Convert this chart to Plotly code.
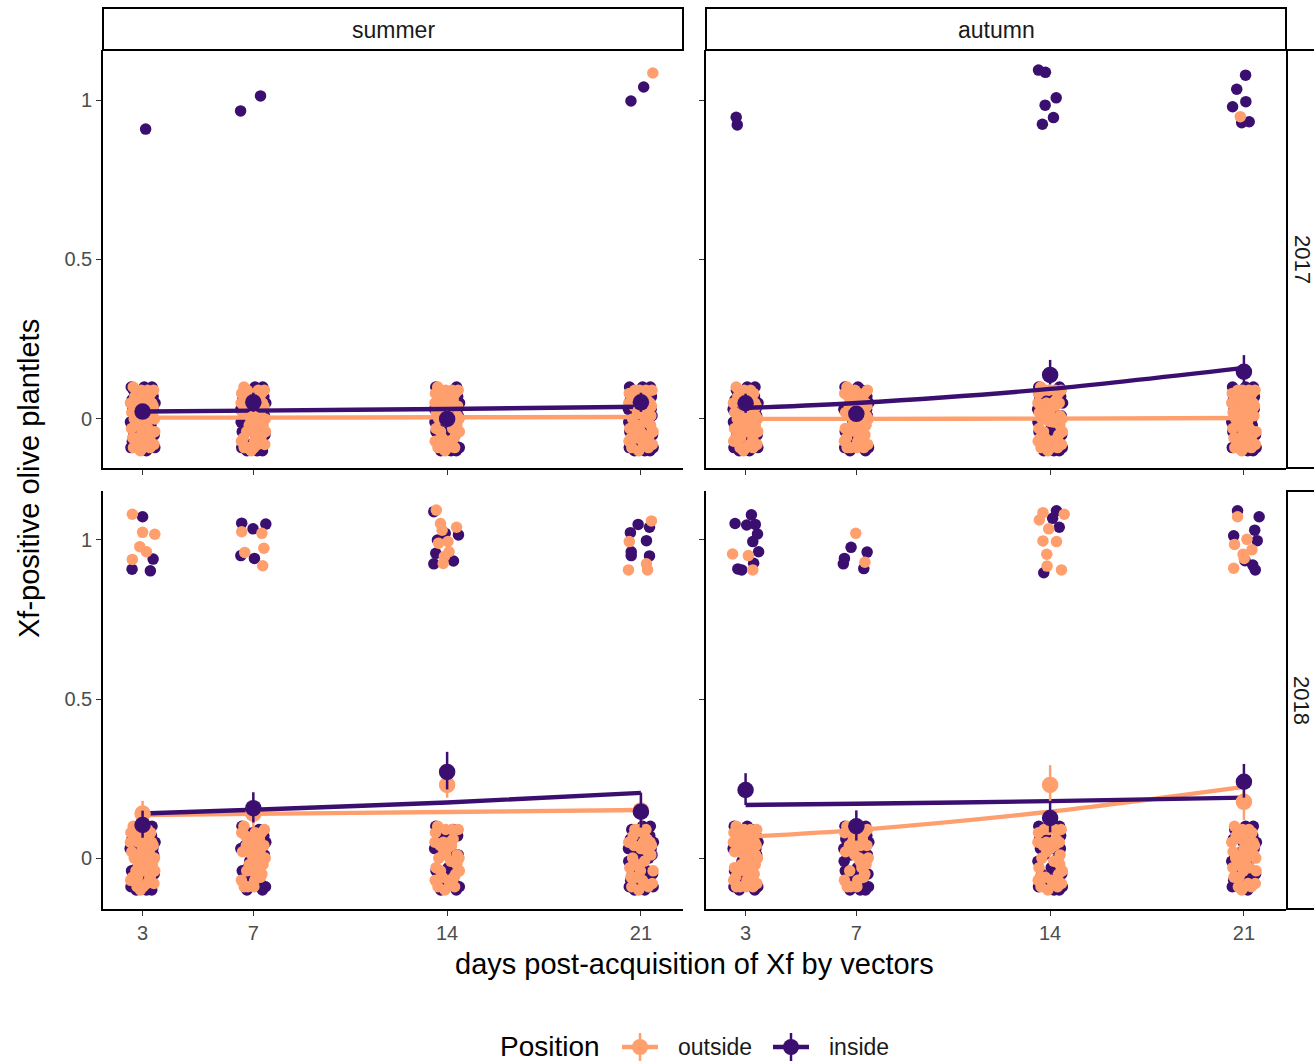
import plotly.graph_objects as go

W, H = 1314, 1061
FONT = "Liberation Sans, Arial, sans-serif"
ORANGE = "#FE9F6D"
PURPLE = "#3B0F70"

# ---------------- data ----------------
days = [3, 7, 14, 21]
day_labels = ["3", "7", "14", "21"]
seasons = ["summer", "autumn"]
years = ["2017", "2018"]
position_labels = ["outside", "inside"]

# number of Xf-negative plantlets (value 0) per day 3, 7, 14, 21
neg_s17_out = [40, 40, 40, 39]
neg_s17_in = [39, 37, 40, 37]
neg_a17_out = [40, 40, 40, 39]
neg_a17_in = [39, 40, 37, 34]
neg_s18_out = [37, 31, 30, 28]
neg_s18_in = [34, 32, 19, 41]
neg_a18_out = [43, 27, 30, 33]
neg_a18_in = [38, 37, 28, 25]

# Xf-positive plantlets (value 1), jittered positions
pos_s17_in_x = [3.11, 6.54, 7.26, 20.64, 21.10]
pos_s17_in_y = [0.909, 0.966, 1.013, 0.997, 1.041]
pos_s17_out_x = [21.43]
pos_s17_out_y = [1.085]

pos_a17_in_x = [2.66, 2.70, 13.58, 13.83, 14.22, 13.82, 14.12, 13.72,
                21.06, 20.74, 21.07, 20.59, 20.92, 21.19]
pos_a17_in_y = [0.946, 0.922, 1.094, 1.087, 1.007, 0.984, 0.945, 0.924,
                1.078, 1.034, 0.995, 0.979, 0.929, 0.932]
pos_a17_out_x = [20.87]
pos_a17_out_y = [0.948]

pos_s18_in_x = [3.00, 3.38, 2.62, 3.28,
                6.58, 6.99, 7.45, 6.55, 7.04,
                13.52, 14.41, 13.93, 13.65, 13.59, 13.52, 14.23,
                20.90, 21.31, 20.62, 21.20, 20.65, 20.65, 21.31]
pos_s18_in_y = [1.073, 0.940, 0.908, 0.903,
                1.053, 1.035, 1.050, 0.951, 0.942,
                1.089, 1.016, 1.021, 1.000, 0.958, 0.925, 0.934,
                1.049, 1.040, 1.023, 0.998, 0.963, 0.951, 0.950]
pos_s18_out_x = [2.63, 3.00, 3.44, 2.90, 3.14, 2.63,
                 6.58, 7.31, 7.38, 6.69, 7.34,
                 13.61, 13.76, 13.82, 14.34, 13.69, 14.03, 14.07, 13.90, 13.86,
                 21.38, 20.58, 21.20, 21.24, 20.55]
pos_s18_out_y = [1.081, 1.024, 1.018, 0.979, 0.963, 0.939,
                 1.026, 1.021, 0.974, 0.961, 0.919,
                 1.094, 1.052, 1.031, 1.040, 0.990, 0.995, 0.963, 0.948, 0.926,
                 1.060, 0.995, 0.925, 0.906, 0.906]

pos_a18_in_x = [3.21, 2.62, 3.04, 3.35, 3.43, 3.26, 3.47, 3.29, 2.72, 2.86,
                6.81, 7.39, 6.57, 6.53, 7.27,
                14.23, 14.09, 14.33, 13.77,
                20.77, 21.55, 21.39, 20.63, 21.48, 21.04, 21.32, 21.41]
pos_a18_in_y = [1.079, 1.052, 1.047, 1.049, 1.019, 0.995, 0.963, 0.927, 0.909, 0.906,
                0.977, 0.962, 0.942, 0.925, 0.910,
                1.092, 1.068, 1.040, 0.897,
                1.092, 1.073, 1.031, 1.013, 0.998, 0.935, 0.921, 0.906]
pos_a18_out_x = [2.53, 3.10, 3.26,
                 6.98, 7.31,
                 13.74, 14.51, 13.61, 13.95, 13.74, 14.23, 13.88, 13.89, 14.41,
                 20.77, 21.11, 20.66, 21.29, 20.97, 21.01, 20.63]
pos_a18_out_y = [0.956, 0.951, 0.906,
                 1.021, 0.930,
                 1.086, 1.081, 1.063, 1.035, 0.997, 0.995, 0.955, 0.918, 0.906,
                 1.073, 1.002, 0.986, 0.969, 0.955, 0.942, 0.911]

# estimated proportions (points) with error bars
mean_s17_out = [0.0, 0.0, 0.0, 0.025]
up_s17_out = [0.0, 0.0, 0.0, 0.02]
dn_s17_out = [0.0, 0.0, 0.0, 0.02]
mean_s17_in = [0.023, 0.052, 0.0, 0.052]
up_s17_in = [0.02, 0.03, 0.0, 0.03]
dn_s17_in = [0.02, 0.03, 0.0, 0.03]

mean_a17_out = [0.0, 0.016, 0.0, 0.02]
up_a17_out = [0.0, 0.01, 0.0, 0.02]
dn_a17_out = [0.0, 0.01, 0.0, 0.02]
mean_a17_in = [0.049, 0.016, 0.138, 0.148]
up_a17_in = [0.03, 0.015, 0.047, 0.052]
dn_a17_in = [0.03, 0.015, 0.03, 0.035]

mean_s18_out = [0.14, 0.14, 0.23, 0.15]
up_s18_out = [0.04, 0.045, 0.05, 0.045]
dn_s18_out = [0.04, 0.045, 0.04, 0.045]
mean_s18_in = [0.104, 0.157, 0.271, 0.146]
up_s18_in = [0.045, 0.05, 0.063, 0.06]
dn_s18_in = [0.04, 0.045, 0.055, 0.05]

mean_a18_out = [0.065, 0.07, 0.23, 0.177]
up_a18_out = [0.03, 0.04, 0.062, 0.05]
dn_a18_out = [0.03, 0.04, 0.05, 0.057]
mean_a18_in = [0.214, 0.10, 0.126, 0.24]
up_a18_in = [0.053, 0.05, 0.05, 0.056]
dn_a18_in = [0.047, 0.045, 0.045, 0.05]

# fitted model curves evaluated at days 3, 7, 14, 21
fit_s17_out = [0.004, 0.004, 0.005, 0.006]
fit_s17_in = [0.023, 0.026, 0.031, 0.038]
fit_a17_out = [0.0, 0.0, 0.001, 0.003]
fit_a17_in = [0.034, 0.05, 0.094, 0.16]
fit_s18_out = [0.135, 0.139, 0.145, 0.151]
fit_s18_in = [0.14, 0.152, 0.175, 0.205]
fit_a18_out = [0.067, 0.088, 0.146, 0.224]
fit_a18_in = [0.167, 0.171, 0.179, 0.19]

# ---------------- style: fixed jitter pattern (days, proportion) ----------------
JIT_A = [(-0.42, 0.08), (0.31, -0.05), (-0.12, 0.02), (0.40, 0.09), (-0.33, -0.09), (0.05, -0.07),
         (0.22, 0.06), (-0.25, 0.04), (0.13, -0.01), (-0.05, 0.09), (0.36, 0.01), (-0.40, -0.03),
         (0.27, -0.09), (-0.18, -0.06), (0.09, 0.05), (-0.30, 0.00), (0.44, -0.04), (-0.08, -0.10),
         (0.18, 0.09), (-0.44, 0.05), (0.00, 0.03), (0.33, 0.05), (-0.22, 0.09), (0.15, -0.08),
         (-0.36, -0.06), (0.41, -0.08), (-0.02, -0.04), (0.24, 0.02), (-0.15, -0.02), (0.07, 0.08),
         (-0.28, 0.07), (0.38, 0.04), (-0.10, 0.06), (0.20, -0.03), (-0.39, 0.02), (0.02, -0.09),
         (0.29, 0.08), (-0.20, -0.09), (0.11, 0.00), (-0.34, 0.10), (0.43, 0.00), (-0.06, 0.01),
         (0.26, -0.06), (-0.24, -0.04), (0.16, 0.04), (-0.43, -0.07), (0.35, -0.02), (-0.14, 0.05)]
JIT_B = [(0.38, 0.07), (-0.27, -0.08), (0.10, 0.03), (-0.41, 0.10), (0.30, -0.02), (-0.07, -0.06),
         (0.21, 0.09), (-0.35, 0.03), (0.44, -0.09), (-0.16, 0.07), (0.04, -0.03), (-0.31, -0.05),
         (0.25, 0.05), (-0.44, -0.01), (0.14, -0.10), (-0.21, 0.01), (0.34, 0.10), (-0.03, 0.05),
         (0.42, -0.05), (-0.38, 0.06), (0.19, -0.07), (-0.11, -0.08), (0.28, 0.00), (-0.25, 0.08),
         (0.06, 0.10), (-0.42, -0.09), (0.37, 0.03), (-0.13, -0.01), (0.23, -0.04), (-0.33, 0.09),
         (0.01, -0.08), (0.32, 0.07), (-0.19, -0.03), (0.12, 0.06), (-0.37, -0.07), (0.45, 0.05),
         (-0.09, 0.02), (0.17, -0.06), (-0.29, 0.04), (0.08, -0.05), (-0.45, 0.03), (0.26, -0.08),
         (-0.01, 0.08), (0.40, 0.01), (-0.23, -0.10), (0.15, 0.02), (-0.40, -0.04), (0.33, -0.10)]


def jittered_zeros(counts, table, start):
    xs, ys = [], []
    k = start
    for d, n in zip(days, counts):
        for i in range(n):
            dx, dy = table[(k + i) % len(table)]
            xs.append(d + dx)
            ys.append(0 + dy)
        k += 13
    return xs, ys


panels = [
    dict(xa="x", ya="y", neg_out=neg_s17_out, neg_in=neg_s17_in,
         pos_out=(pos_s17_out_x, pos_s17_out_y), pos_in=(pos_s17_in_x, pos_s17_in_y),
         m_out=(mean_s17_out, up_s17_out, dn_s17_out), m_in=(mean_s17_in, up_s17_in, dn_s17_in),
         f_out=fit_s17_out, f_in=fit_s17_in),
    dict(xa="x2", ya="y2", neg_out=neg_a17_out, neg_in=neg_a17_in,
         pos_out=(pos_a17_out_x, pos_a17_out_y), pos_in=(pos_a17_in_x, pos_a17_in_y),
         m_out=(mean_a17_out, up_a17_out, dn_a17_out), m_in=(mean_a17_in, up_a17_in, dn_a17_in),
         f_out=fit_a17_out, f_in=fit_a17_in),
    dict(xa="x3", ya="y3", neg_out=neg_s18_out, neg_in=neg_s18_in,
         pos_out=(pos_s18_out_x, pos_s18_out_y), pos_in=(pos_s18_in_x, pos_s18_in_y),
         m_out=(mean_s18_out, up_s18_out, dn_s18_out), m_in=(mean_s18_in, up_s18_in, dn_s18_in),
         f_out=fit_s18_out, f_in=fit_s18_in),
    dict(xa="x4", ya="y4", neg_out=neg_a18_out, neg_in=neg_a18_in,
         pos_out=(pos_a18_out_x, pos_a18_out_y), pos_in=(pos_a18_in_x, pos_a18_in_y),
         m_out=(mean_a18_out, up_a18_out, dn_a18_out), m_in=(mean_a18_in, up_a18_in, dn_a18_in),
         f_out=fit_a18_out, f_in=fit_a18_in),
]

fig = go.Figure()
PT = 11.5

for pi, p in enumerate(panels):
    zx_in, zy_in = jittered_zeros(p["neg_in"], JIT_B, pi * 7)
    zx_out, zy_out = jittered_zeros(p["neg_out"], JIT_A, pi * 5 + 3)
    fig.add_trace(go.Scatter(x=zx_in + p["pos_in"][0], y=zy_in + p["pos_in"][1], mode="markers",
                             marker=dict(color=PURPLE, size=PT, line=dict(width=0)),
                             xaxis=p["xa"], yaxis=p["ya"], showlegend=False, hoverinfo="skip"))
    fig.add_trace(go.Scatter(x=zx_out + p["pos_out"][0], y=zy_out + p["pos_out"][1], mode="markers",
                             marker=dict(color=ORANGE, size=PT, line=dict(width=0)),
                             xaxis=p["xa"], yaxis=p["ya"], showlegend=False, hoverinfo="skip"))
    for fit, col in ((p["f_out"], ORANGE), (p["f_in"], PURPLE)):
        fig.add_trace(go.Scatter(x=days, y=fit, mode="lines",
                                 line=dict(color=col, width=4.4, shape="spline", smoothing=0.8),
                                 xaxis=p["xa"], yaxis=p["ya"], showlegend=False, hoverinfo="skip"))
    for (m, up, dn), col in ((p["m_out"], ORANGE), (p["m_in"], PURPLE)):
        fig.add_trace(go.Scatter(x=days, y=m, mode="markers",
                                 marker=dict(color=col, size=16.5, line=dict(width=0)),
                                 error_y=dict(type="data", array=up, arrayminus=dn, visible=True,
                                              color=col, thickness=2.5, width=0),
                                 xaxis=p["xa"], yaxis=p["ya"], showlegend=False, hoverinfo="skip"))

# ---------------- layout ----------------
def px(x):
    return x / W


def py(y):
    return 1 - y / H


XL = [px(103), px(683)]
XR = [px(706), px(1286)]
YT = [py(468), py(50)]
YB = [py(909), py(491)]

XRANGE = [1.57, 22.52]
YRANGE_T = [-0.154, 1.157]
YRANGE_B = [-0.160, 1.154]

common_axis = dict(showgrid=False, zeroline=False, showline=True, linecolor="black", linewidth=1.6,
                   ticks="outside", ticklen=5, tickwidth=1.2, tickcolor="#333333",
                   tickfont=dict(family=FONT, size=20, color="#4D4D4D"), fixedrange=True)


def xax(domain, anchor, labels):
    return dict(common_axis, domain=domain, anchor=anchor, range=XRANGE,
                tickvals=days, ticktext=day_labels, showticklabels=labels)


def yax(domain, anchor, rng, labels):
    return dict(common_axis, domain=domain, anchor=anchor, range=rng,
                tickvals=[0, 0.5, 1], ticktext=["0", "0.5", "1"], showticklabels=labels)


shapes = []
annotations = []

for (x0, x1), label in ((XL, seasons[0]), (XR, seasons[1])):
    shapes.append(dict(type="rect", xref="paper", yref="paper", x0=x0, x1=x1, y0=py(50), y1=py(8),
                       line=dict(color="black", width=2), fillcolor="white", layer="above"))
    annotations.append(dict(text=label, xref="paper", yref="paper", x=(x0 + x1) / 2, y=py(30),
                            showarrow=False, xanchor="center", yanchor="middle",
                            font=dict(family=FONT, size=23, color="#1A1A1A")))
for (y0, y1), label in ((YT, years[0]), (YB, years[1])):
    shapes.append(dict(type="rect", xref="paper", yref="paper", x0=px(1287), x1=px(1330), y0=y0, y1=y1,
                       line=dict(color="black", width=2), fillcolor="white", layer="above"))
    annotations.append(dict(text=label, xref="paper", yref="paper", x=px(1302), y=(y0 + y1) / 2,
                            showarrow=False, xanchor="center", yanchor="middle", textangle=90,
                            font=dict(family=FONT, size=22, color="#1A1A1A")))

annotations.append(dict(text="Xf-positive olive plantlets", xref="paper", yref="paper",
                        x=px(29), y=py(479), showarrow=False, textangle=-90,
                        xanchor="center", yanchor="middle",
                        font=dict(family=FONT, size=29, color="black")))
annotations.append(dict(text="days post-acquisition of Xf by vectors", xref="paper", yref="paper",
                        x=px(694), y=py(964), showarrow=False, xanchor="center", yanchor="middle",
                        font=dict(family=FONT, size=29, color="black")))

annotations.append(dict(text="Position", xref="paper", yref="paper", x=px(498), y=py(1046),
                        showarrow=False, xanchor="left", yanchor="middle",
                        font=dict(family=FONT, size=28, color="black")))
for cx, col, label, tx in ((640, ORANGE, position_labels[0], 676), (791, PURPLE, position_labels[1], 827)):
    shapes.append(dict(type="line", xref="paper", yref="paper", x0=px(cx - 18), x1=px(cx + 18),
                       y0=py(1047), y1=py(1047), line=dict(color=col, width=4.4)))
    shapes.append(dict(type="line", xref="paper", yref="paper", x0=px(cx), x1=px(cx),
                       y0=py(1033), y1=py(1061), line=dict(color=col, width=2.5)))
    shapes.append(dict(type="circle", xref="paper", yref="paper", x0=px(cx - 8), x1=px(cx + 8),
                       y0=py(1047 + 8), y1=py(1047 - 8), line=dict(width=0), fillcolor=col))
    annotations.append(dict(text=label, xref="paper", yref="paper", x=px(tx), y=py(1047),
                            showarrow=False, xanchor="left", yanchor="middle",
                            font=dict(family=FONT, size=23, color="#1A1A1A")))

fig.update_layout(
    width=W, height=H, autosize=False,
    margin=dict(l=0, r=0, t=0, b=0),
    paper_bgcolor="white", plot_bgcolor="white",
    font=dict(family=FONT),
    showlegend=False,
    xaxis=xax(XL, "y", False), yaxis=yax(YT, "x", YRANGE_T, True),
    xaxis2=xax(XR, "y2", False), yaxis2=yax(YT, "x2", YRANGE_T, False),
    xaxis3=xax(XL, "y3", True), yaxis3=yax(YB, "x3", YRANGE_B, True),
    xaxis4=xax(XR, "y4", True), yaxis4=yax(YB, "x4", YRANGE_B, False),
    shapes=shapes, annotations=annotations,
)

fig.write_html("out.html")
